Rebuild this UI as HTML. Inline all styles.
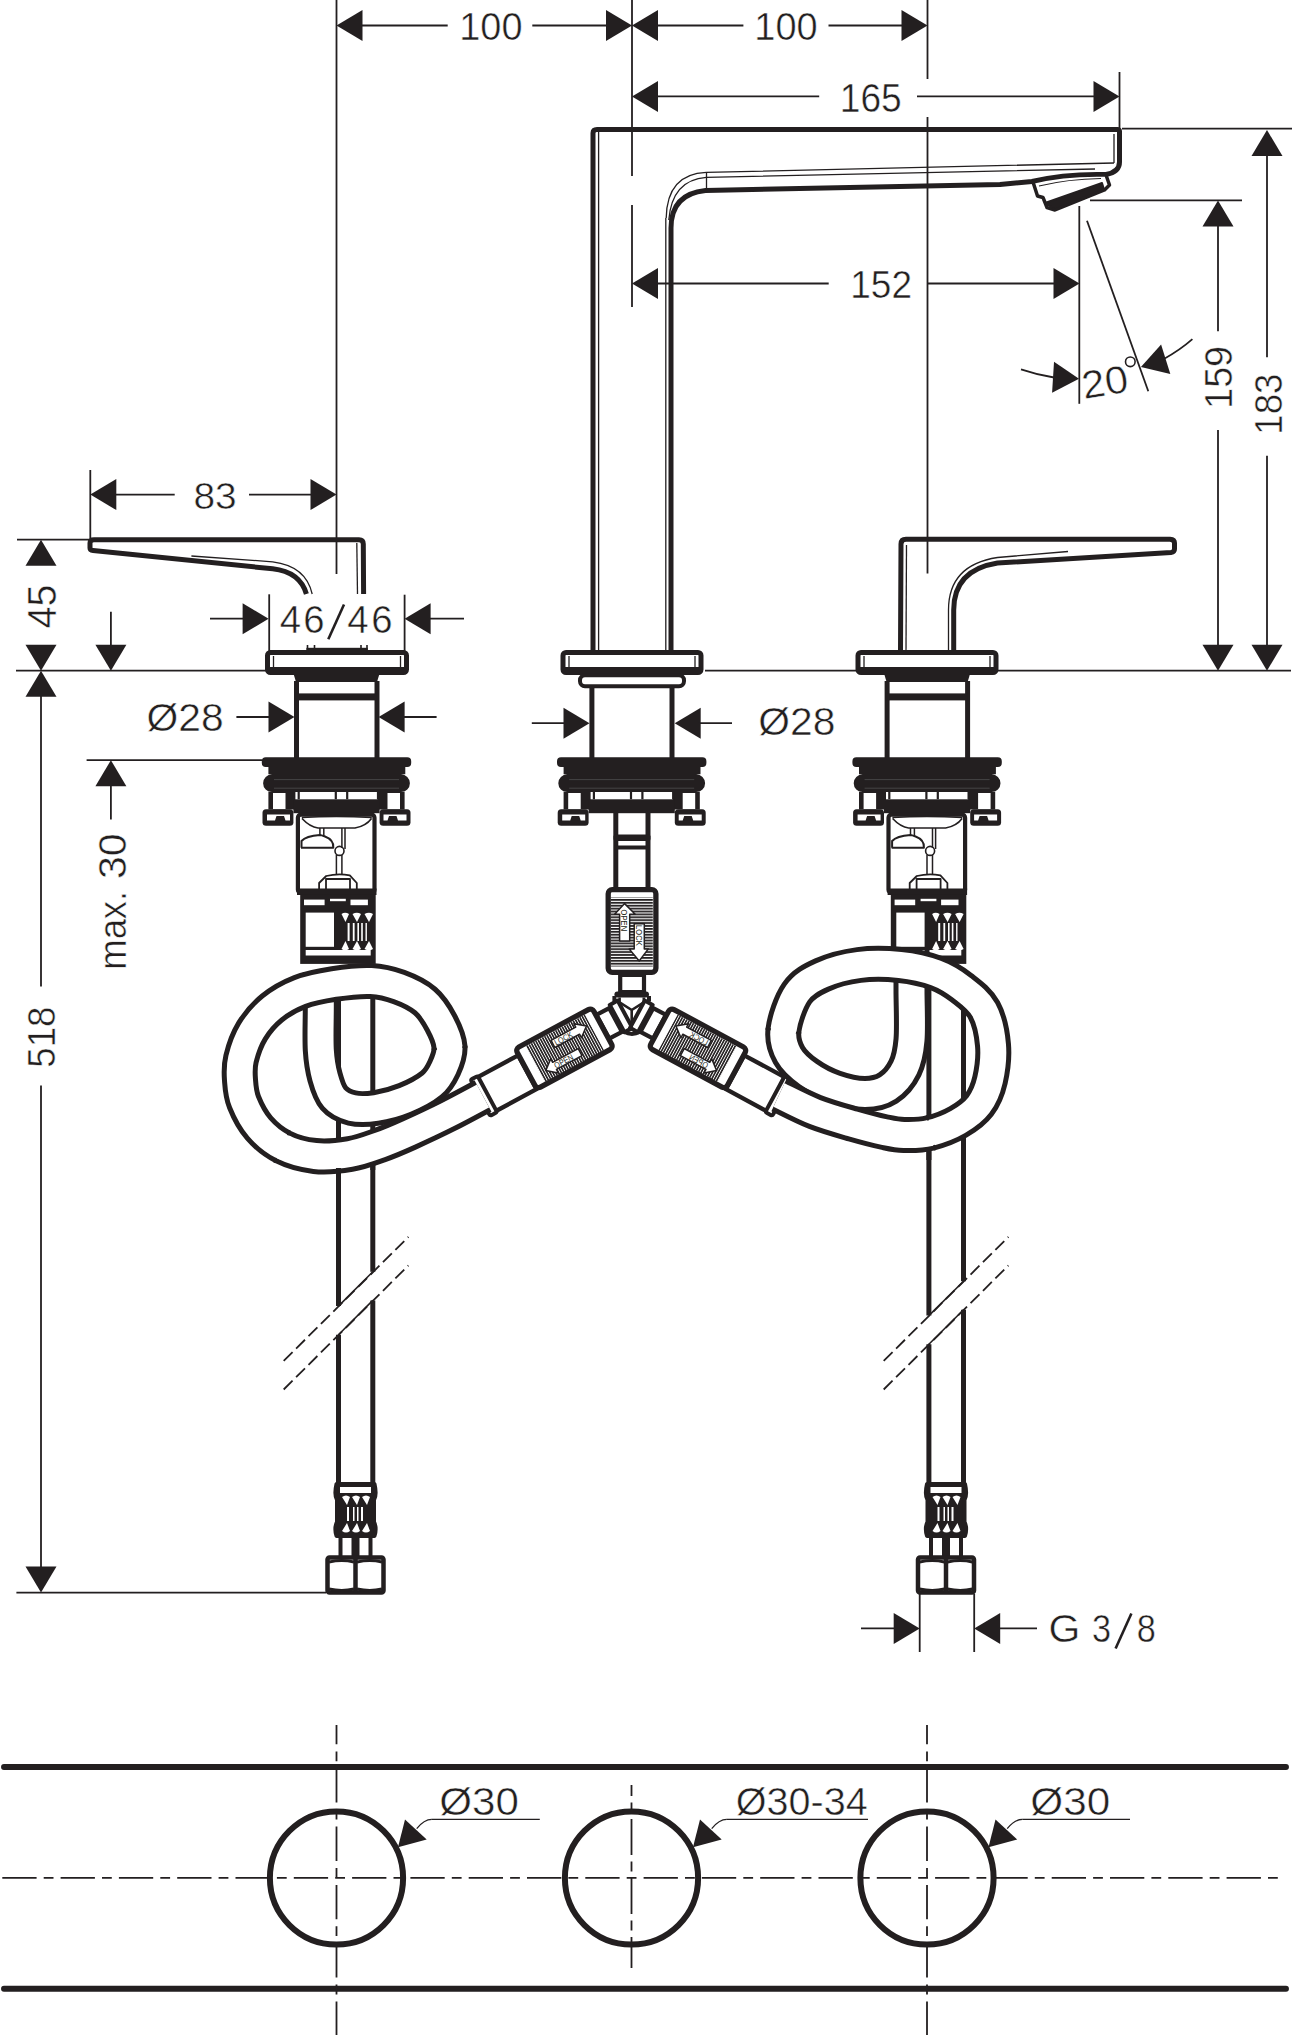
<!DOCTYPE html>
<html><head><meta charset="utf-8"><style>
html,body{margin:0;padding:0;background:#fff;}
svg{display:block;}
text{font-family:"Liberation Sans",sans-serif;fill:#231f20;stroke:#fff;stroke-width:0.5px;}
</style></head><body>
<svg width="1292" height="2035" viewBox="0 0 1292 2035" fill="none" stroke="#231f20" stroke-linecap="butt" stroke-linejoin="round">
<rect x="0" y="0" width="1292" height="2035" fill="#fff" stroke="none"/>
<line x1="336.5" y1="0" x2="336.5" y2="574" stroke-width="1.8" />
<line x1="632" y1="0" x2="632" y2="176" stroke-width="1.8" />
<line x1="632" y1="205" x2="632" y2="307" stroke-width="1.8" />
<line x1="927.5" y1="0" x2="927.5" y2="79" stroke-width="1.8" />
<line x1="927.5" y1="117" x2="927.5" y2="573.5" stroke-width="1.8" />
<polygon points="336.5,25.5 362.5,10.0 362.5,41.0" stroke="none" fill="#231f20"/>
<line x1="362" y1="25.5" x2="447.7" y2="25.5" stroke-width="1.8" />
<text transform="translate(459.27,40.20) scale(0.955,1)" font-size="39.71" >100</text>
<line x1="532.3" y1="25.5" x2="607" y2="25.5" stroke-width="1.8" />
<polygon points="632.0,25.5 606.0,41.0 606.0,10.0" stroke="none" fill="#231f20"/>
<polygon points="632.0,25.5 658.0,10.0 658.0,41.0" stroke="none" fill="#231f20"/>
<line x1="657" y1="25.5" x2="743.4" y2="25.5" stroke-width="1.8" />
<text transform="translate(754.26,40.20) scale(0.957,1)" font-size="39.71" >100</text>
<line x1="828.5" y1="25.5" x2="902" y2="25.5" stroke-width="1.8" />
<polygon points="927.5,25.5 901.5,41.0 901.5,10.0" stroke="none" fill="#231f20"/>
<polygon points="632.0,96.4 658.0,80.9 658.0,111.9" stroke="none" fill="#231f20"/>
<line x1="657" y1="96.4" x2="819.2" y2="96.4" stroke-width="1.8" />
<text transform="translate(839.73,111.50) scale(0.932,1)" font-size="39.86" >165</text>
<line x1="917" y1="96.4" x2="1094" y2="96.4" stroke-width="1.8" />
<polygon points="1119.5,96.4 1093.5,111.9 1093.5,80.9" stroke="none" fill="#231f20"/>
<line x1="1119.5" y1="72" x2="1119.5" y2="128" stroke-width="1.8" />
<polygon points="632.0,283.5 658.0,268.0 658.0,299.0" stroke="none" fill="#231f20"/>
<line x1="657" y1="283.5" x2="828.7" y2="283.5" stroke-width="1.8" />
<text transform="translate(850.24,298.30) scale(0.932,1)" font-size="39.71" >152</text>
<line x1="927.5" y1="283.5" x2="1054" y2="283.5" stroke-width="1.8" />
<polygon points="1079.5,283.5 1053.5,299.0 1053.5,268.0" stroke="none" fill="#231f20"/>
<line x1="1122" y1="128.7" x2="1292" y2="128.7" stroke-width="1.8" />
<line x1="1090" y1="200.3" x2="1242" y2="200.3" stroke-width="1.8" />
<polygon points="1267.0,130.0 1282.5,156.0 1251.5,156.0" stroke="none" fill="#231f20"/>
<line x1="1267" y1="155" x2="1267" y2="357.2" stroke-width="1.8" />
<text transform="translate(1281.60,434.73) rotate(-90) scale(0.929,1)" font-size="39.43">183</text>
<line x1="1267" y1="455.7" x2="1267" y2="645" stroke-width="1.8" />
<polygon points="1267.0,670.7 1251.5,644.7 1282.5,644.7" stroke="none" fill="#231f20"/>
<polygon points="1218.0,200.6 1233.5,226.6 1202.5,226.6" stroke="none" fill="#231f20"/>
<line x1="1218" y1="226" x2="1218" y2="331.2" stroke-width="1.8" />
<text transform="translate(1232.20,408.81) rotate(-90) scale(0.969,1)" font-size="38.86">159</text>
<line x1="1218" y1="429.9" x2="1218" y2="645" stroke-width="1.8" />
<polygon points="1218.0,670.7 1202.5,644.7 1233.5,644.7" stroke="none" fill="#231f20"/>
<line x1="1079.3" y1="206" x2="1079.3" y2="403.8" stroke-width="1.8" />
<line x1="1087" y1="220.7" x2="1148.3" y2="391.3" stroke-width="1.8" />
<polygon points="1079.0,378.8 1052.1,392.7 1054.0,361.8" stroke="none" fill="#231f20"/>
<path d="M1021,369.3 Q1038,375 1054,377.5" stroke-width="1.8" />
<polygon points="1140.9,367.0 1161.1,344.5 1170.3,374.1" stroke="none" fill="#231f20"/>
<path d="M1192.4,339.1 Q1180,350 1163,359.5" stroke-width="1.8" />
<text transform="translate(1084,399) rotate(-9) scale(1.07,1)" font-size="39">20</text>
<circle cx="1130.3" cy="361.8" r="4.8" stroke-width="1.6"/>
<line x1="16" y1="670.7" x2="267" y2="670.7" stroke-width="1.8" />
<line x1="705" y1="670.7" x2="858" y2="670.7" stroke-width="1.8" />
<line x1="996" y1="670.7" x2="1291" y2="670.7" stroke-width="1.8" />
<line x1="90.3" y1="470" x2="90.3" y2="539" stroke-width="1.8" />
<polygon points="90.3,494.6 116.3,479.1 116.3,510.1" stroke="none" fill="#231f20"/>
<line x1="116" y1="494.6" x2="174.7" y2="494.6" stroke-width="1.8" />
<text transform="translate(193.45,508.70) scale(1.046,1)" font-size="37.14" >83</text>
<line x1="249" y1="494.6" x2="311" y2="494.6" stroke-width="1.8" />
<polygon points="336.5,494.6 310.5,510.1 310.5,479.1" stroke="none" fill="#231f20"/>
<line x1="17" y1="539.7" x2="89" y2="539.7" stroke-width="1.8" />
<polygon points="41.0,539.7 56.5,565.7 25.5,565.7" stroke="none" fill="#231f20"/>
<text transform="translate(56.00,628.39) rotate(-90) scale(0.980,1)" font-size="40.14">45</text>
<polygon points="41.0,670.7 25.5,644.7 56.5,644.7" stroke="none" fill="#231f20"/>
<polygon points="41.0,670.7 56.5,696.7 25.5,696.7" stroke="none" fill="#231f20"/>
<line x1="41" y1="696" x2="41" y2="986.6" stroke-width="1.8" />
<text transform="translate(55.00,1067.67) rotate(-90) scale(0.923,1)" font-size="39.71">518</text>
<line x1="41" y1="1085.6" x2="41" y2="1567" stroke-width="1.8" />
<polygon points="41.0,1592.6 25.5,1566.6 56.5,1566.6" stroke="none" fill="#231f20"/>
<line x1="16.4" y1="1592.6" x2="326" y2="1592.6" stroke-width="1.8" />
<line x1="110.9" y1="611.7" x2="110.9" y2="646" stroke-width="1.8" />
<polygon points="110.9,670.7 95.4,644.7 126.4,644.7" stroke="none" fill="#231f20"/>
<line x1="86.6" y1="760.2" x2="262" y2="760.2" stroke-width="1.8" />
<polygon points="110.9,760.2 126.4,786.2 95.4,786.2" stroke="none" fill="#231f20"/>
<line x1="110.9" y1="785" x2="110.9" y2="819.5" stroke-width="1.8" />
<text transform="translate(125.60,879.05) rotate(-90) scale(1.040,1)" font-size="39.57">30</text>
<text transform="translate(125.60,969.65) rotate(-90) scale(0.919,1)" font-size="39.57">max.</text>
<line x1="210" y1="618.7" x2="243" y2="618.7" stroke-width="1.8" />
<polygon points="268.6,618.7 242.6,634.2 242.6,603.2" stroke="none" fill="#231f20"/>
<line x1="269.2" y1="594.3" x2="269.2" y2="652" stroke-width="1.8" />
<text transform="translate(279.83,633.20) scale(0.971,1)" font-size="39.57" >4</text>
<text transform="translate(303.29,633.20) scale(0.967,1)" font-size="39.57" >6</text>
<line x1="328.3" y1="639.3" x2="344" y2="604.5" stroke-width="2.6" />
<text transform="translate(347.23,633.20) scale(0.971,1)" font-size="39.57" >4</text>
<text transform="translate(371.19,633.20) scale(0.967,1)" font-size="39.57" >6</text>
<line x1="404.6" y1="594.7" x2="404.6" y2="652" stroke-width="1.8" />
<polygon points="404.6,618.7 430.6,603.2 430.6,634.2" stroke="none" fill="#231f20"/>
<line x1="430" y1="618.7" x2="464" y2="618.7" stroke-width="1.8" />
<text transform="translate(146.47,731.40) scale(1.055,1)" font-size="38.71" >Ø28</text>
<line x1="236.4" y1="717" x2="270" y2="717" stroke-width="1.8" />
<polygon points="294.5,717.0 268.5,732.5 268.5,701.5" stroke="none" fill="#231f20"/>
<polygon points="378.6,717.0 404.6,701.5 404.6,732.5" stroke="none" fill="#231f20"/>
<line x1="403" y1="717" x2="436.6" y2="717" stroke-width="1.8" />
<line x1="531.8" y1="723.2" x2="566" y2="723.2" stroke-width="1.8" />
<polygon points="589.5,723.2 563.5,738.7 563.5,707.7" stroke="none" fill="#231f20"/>
<polygon points="674.7,723.2 700.7,707.7 700.7,738.7" stroke="none" fill="#231f20"/>
<line x1="698" y1="723.2" x2="732" y2="723.2" stroke-width="1.8" />
<text transform="translate(758.37,735.00) scale(1.057,1)" font-size="38.57" >Ø28</text>
<line x1="919.7" y1="1594" x2="919.7" y2="1652" stroke-width="1.8" />
<line x1="974.2" y1="1594" x2="974.2" y2="1652" stroke-width="1.8" />
<line x1="861" y1="1628.4" x2="895" y2="1628.4" stroke-width="1.8" />
<polygon points="919.7,1628.4 893.7,1643.9 893.7,1612.9" stroke="none" fill="#231f20"/>
<polygon points="974.2,1628.4 1000.2,1612.9 1000.2,1643.9" stroke="none" fill="#231f20"/>
<line x1="999" y1="1628.4" x2="1037" y2="1628.4" stroke-width="1.8" />
<text transform="translate(1048.55,1642.30) scale(1.053,1)" font-size="38.86" >G</text>
<text transform="translate(1091.93,1642.30) scale(0.882,1)" font-size="38.86" >3</text>
<line x1="1115.6" y1="1648.5" x2="1131.4" y2="1613.5" stroke-width="2.6" />
<text transform="translate(1136.73,1642.30) scale(0.882,1)" font-size="38.86" >8</text>
<path d="M593,652 L593,133 Q593,129.5 597,129.5 L1117.5,129.5 Q1119.5,129.5 1119.5,131.5 L1119.5,162 Q1119.5,172 1106,174.5 Q1065,173.5 1032,181.5 L1000,184.6 L705.5,190.5 Q671,194 671,228 L671,652" stroke-width="5.0" />
<line x1="598.6" y1="132" x2="598.6" y2="652" stroke-width="1.3" />
<line x1="665.8" y1="218" x2="665.8" y2="652" stroke-width="1.3" />
<path d="M666.2,218 Q667,174 706.3,172.4 L1114,163" stroke-width="1.3" />
<path d="M668.8,220 Q672,180 706.3,177.4 L1095,169" stroke-width="1.3" />
<line x1="706.5" y1="173" x2="706.5" y2="190" stroke-width="1.3" />
<line x1="1114" y1="134" x2="1114" y2="163" stroke-width="1.3" />
<path d="M1033,182 L1037.5,196 L1043,197.5 L1047,207.5 L1055,210 L1104.5,190 L1109.5,185 L1106,175 Q1065,174 1033,182Z" fill="#fff" stroke="#231f20" stroke-width="3.5"/>
<polygon points="1045,203 1055,209.5 1104,189.5 1102,183" fill="#231f20" stroke="#231f20" stroke-width="2"/>
<path d="M1039,186 Q1068,179 1101,178.5" stroke-width="1.2"/>
<path d="M90,548 L90,543 Q90,539.7 94,539.7 L359,539.7 Q363.3,539.7 363.3,544 L363.6,594" stroke-width="5.0" />
<path d="M90,548 Q90,550.3 93,550.5 L272.7,568.8 Q300,572 306.4,594" stroke-width="5.0" />
<path d="M191.4,556 L272.7,561.8 Q306,566 312.2,594" stroke-width="1.3" />
<line x1="356.8" y1="543" x2="357.5" y2="594" stroke-width="1.3" />
<path d="M900.5,650 L901,544 Q901,539.2 906,539.2 L1170,539.2 Q1174.5,539.5 1174.5,543 L1174.5,549 Q1174.5,552 1171,552.5 L997.5,563 Q953.7,570 953.7,610 L953.7,650" stroke-width="5.0" />
<line x1="906.5" y1="545" x2="906" y2="650" stroke-width="1.3" />
<path d="M1068,551.5 L997.5,557.5 Q948.5,565 948.5,610 L948.5,650" stroke-width="1.3" />
<rect x="267.5" y="652.5" width="139.0" height="20" rx="3" stroke-width="5.0" fill="#fff"/>
<rect x="267.5" y="667" width="139.0" height="7" fill="#231f20" stroke="none"/>
<line x1="273.5" y1="656" x2="273.5" y2="667" stroke-width="1.3" />
<line x1="400.5" y1="656" x2="400.5" y2="667" stroke-width="1.3" />
<rect x="563" y="652.5" width="138" height="20" rx="3" stroke-width="5.0" fill="#fff"/>
<rect x="563" y="667" width="138" height="7" fill="#231f20" stroke="none"/>
<line x1="569" y1="656" x2="569" y2="667" stroke-width="1.3" />
<line x1="695" y1="656" x2="695" y2="667" stroke-width="1.3" />
<rect x="858" y="652.5" width="138" height="20" rx="3" stroke-width="5.0" fill="#fff"/>
<rect x="858" y="667" width="138" height="7" fill="#231f20" stroke="none"/>
<line x1="864" y1="656" x2="864" y2="667" stroke-width="1.3" />
<line x1="990" y1="656" x2="990" y2="667" stroke-width="1.3" />
<g transform="translate(0.0,0)">
<path d="M265.8,757.2 H407.2 Q411.2,757.2 411.2,761.2 V763.1 Q411.2,767.1 407.2,767.1 H405.3 V774.3 H401 A8.9,8.9 0 0 1 401,792.1 H272 A8.9,8.9 0 0 1 272,774.3 H268.4 V767.1 H265.8 Q261.8,767.1 261.8,763.1 V761.2 Q261.8,757.2 265.8,757.2 Z" fill="#231f20" stroke="none"/>
<path d="M274,779.6 H399 M274,788.2 H399" stroke="#4a4a4a" stroke-width="0.9"/>
<rect x="262.5" y="809.2" width="30.9" height="16.5" rx="3.5" fill="#231f20" stroke="none"/>
<rect x="379.6" y="809.2" width="30.9" height="16.5" rx="3.5" fill="#231f20" stroke="none"/>
<path d="M267,814.5 H290 V820.4 H285.5 L284,816 H276.5 L275,820.4 H267Z M383.5,814.5 H406.5 V820.4 H398 L396.5,816 H389 L387.5,820.4 H383.5Z" fill="#fff" stroke="none"/>
<rect x="268.4" y="792" width="27" height="17.5" fill="#231f20" stroke="none"/>
<rect x="377.6" y="792" width="27" height="17.5" fill="#231f20" stroke="none"/>
<rect x="273" y="793" width="12.5" height="16" fill="#fff" stroke="none"/>
<rect x="387.5" y="793" width="12.5" height="16" fill="#fff" stroke="none"/>
<rect x="293.4" y="799.3" width="86.2" height="13.9" fill="#231f20" stroke="none"/>
<path d="M298.7,792 V799.3 M335.8,792 V799.3 M347.2,792 V799.3 M378,792 V799.3" stroke-width="2.2"/>
</g>
<g transform="translate(0.0,0)">
<rect x="306.4" y="647.8" width="61.3" height="6" fill="#231f20" stroke="none"/>
<path d="M307.5,652 V645 M314.5,652 V645 M361,652 V645 M367,652 V645" stroke-width="1.6"/>
<polygon points="293,672 380,672 377,682 296,682" fill="#231f20" stroke="none"/>
<line x1="296.5" y1="681" x2="296.5" y2="758" stroke-width="5.0" />
<line x1="377" y1="681" x2="377" y2="758" stroke-width="5.0" />
<rect x="296" y="693.4" width="81" height="7" fill="#231f20" stroke="none"/>
<rect x="297.9" y="814.7" width="76.6" height="78" rx="3" stroke-width="4.2" fill="#fff"/>
<path d="M301.8,817.5 Q336,815.5 371.8,817.5 M302,818.5 Q310,827 318,828 L355,828 Q366,826 371.5,818.5" stroke-width="1.6"/>
<path d="M301.5,847.7 L301.5,841 Q306,836 319.9,835 M301,847.7 L333.3,847.7 Q334,840 325,836.5 Q321,835 319.9,835" stroke-width="2"/>
<path d="M319.9,828 V835 M323.8,828 V836 M341.9,828 V848 M345,828 V849" stroke-width="1.5"/>
<circle cx="339.5" cy="850.9" r="4.5" stroke-width="1.6"/>
<path d="M336.4,855 V875 M341.9,855 V875" stroke-width="1.5"/>
<path d="M319.1,889.4 V883 L326.2,876 Q338,873 349.8,875.3 L356.8,883 V889.4 M326,889 V879 H350 V889" stroke-width="1.8"/>
<rect x="297" y="888.5" width="79.5" height="6.5" fill="#231f20" stroke="none"/>
<rect x="300.2" y="894.9" width="75.5" height="69" fill="#231f20" stroke="none"/>
<rect x="304" y="899.6" width="20.6" height="5.6" fill="#fff" stroke="none"/>
<rect x="330" y="898.8" width="15.8" height="2.4" fill="#fff" stroke="none"/>
<rect x="350.5" y="899.6" width="17.4" height="5.6" fill="#fff" stroke="none"/>
<rect x="305.7" y="912.6" width="28.3" height="34.2" fill="#fff" stroke="none"/>
<rect x="305.7" y="950" width="65" height="5.5" fill="#fff" stroke="none"/>
<path d="M341.5,914 Q345,911.5 349,914 L345.5,922 Z M352.5,914 Q357,911.5 361,914 L357,922 Z M364.5,914 Q369,911.5 373,914 L369,922 Z" fill="#fff" stroke="none"/>
<path d="M341.5,949 Q345,951.5 349,949 L345.5,941 Z M352.5,949 Q357,951.5 361,949 L357,941 Z M364.5,949 Q369,951.5 373,949 L369,941 Z" fill="#fff" stroke="none"/>
<rect x="347.6" y="923" width="2" height="18" fill="#fff" stroke="none"/><rect x="352.8" y="923" width="1.8" height="18" fill="#fff" stroke="none"/><rect x="357.4" y="923" width="1.6" height="18" fill="#fff" stroke="none"/><rect x="361.2" y="923" width="1.6" height="18" fill="#fff" stroke="none"/><rect x="365.5" y="923" width="1.4" height="18" fill="#fff" stroke="none"/>
</g>
<g transform="translate(590.6,0)">
<path d="M265.8,757.2 H407.2 Q411.2,757.2 411.2,761.2 V763.1 Q411.2,767.1 407.2,767.1 H405.3 V774.3 H401 A8.9,8.9 0 0 1 401,792.1 H272 A8.9,8.9 0 0 1 272,774.3 H268.4 V767.1 H265.8 Q261.8,767.1 261.8,763.1 V761.2 Q261.8,757.2 265.8,757.2 Z" fill="#231f20" stroke="none"/>
<path d="M274,779.6 H399 M274,788.2 H399" stroke="#4a4a4a" stroke-width="0.9"/>
<rect x="262.5" y="809.2" width="30.9" height="16.5" rx="3.5" fill="#231f20" stroke="none"/>
<rect x="379.6" y="809.2" width="30.9" height="16.5" rx="3.5" fill="#231f20" stroke="none"/>
<path d="M267,814.5 H290 V820.4 H285.5 L284,816 H276.5 L275,820.4 H267Z M383.5,814.5 H406.5 V820.4 H398 L396.5,816 H389 L387.5,820.4 H383.5Z" fill="#fff" stroke="none"/>
<rect x="268.4" y="792" width="27" height="17.5" fill="#231f20" stroke="none"/>
<rect x="377.6" y="792" width="27" height="17.5" fill="#231f20" stroke="none"/>
<rect x="273" y="793" width="12.5" height="16" fill="#fff" stroke="none"/>
<rect x="387.5" y="793" width="12.5" height="16" fill="#fff" stroke="none"/>
<rect x="293.4" y="799.3" width="86.2" height="13.9" fill="#231f20" stroke="none"/>
<path d="M298.7,792 V799.3 M335.8,792 V799.3 M347.2,792 V799.3 M378,792 V799.3" stroke-width="2.2"/>
</g>
<g transform="translate(590.6,0)">
<polygon points="293,672 380,672 377,682 296,682" fill="#231f20" stroke="none"/>
<line x1="296.5" y1="681" x2="296.5" y2="758" stroke-width="5.0" />
<line x1="377" y1="681" x2="377" y2="758" stroke-width="5.0" />
<rect x="296" y="693.4" width="81" height="7" fill="#231f20" stroke="none"/>
<rect x="297.9" y="814.7" width="76.6" height="78" rx="3" stroke-width="4.2" fill="#fff"/>
<path d="M301.8,817.5 Q336,815.5 371.8,817.5 M302,818.5 Q310,827 318,828 L355,828 Q366,826 371.5,818.5" stroke-width="1.6"/>
<path d="M301.5,847.7 L301.5,841 Q306,836 319.9,835 M301,847.7 L333.3,847.7 Q334,840 325,836.5 Q321,835 319.9,835" stroke-width="2"/>
<path d="M319.9,828 V835 M323.8,828 V836 M341.9,828 V848 M345,828 V849" stroke-width="1.5"/>
<circle cx="339.5" cy="850.9" r="4.5" stroke-width="1.6"/>
<path d="M336.4,855 V875 M341.9,855 V875" stroke-width="1.5"/>
<path d="M319.1,889.4 V883 L326.2,876 Q338,873 349.8,875.3 L356.8,883 V889.4 M326,889 V879 H350 V889" stroke-width="1.8"/>
<rect x="297" y="888.5" width="79.5" height="6.5" fill="#231f20" stroke="none"/>
<rect x="300.2" y="894.9" width="75.5" height="69" fill="#231f20" stroke="none"/>
<rect x="304" y="899.6" width="20.6" height="5.6" fill="#fff" stroke="none"/>
<rect x="330" y="898.8" width="15.8" height="2.4" fill="#fff" stroke="none"/>
<rect x="350.5" y="899.6" width="17.4" height="5.6" fill="#fff" stroke="none"/>
<rect x="305.7" y="912.6" width="28.3" height="34.2" fill="#fff" stroke="none"/>
<rect x="305.7" y="950" width="65" height="5.5" fill="#fff" stroke="none"/>
<path d="M341.5,914 Q345,911.5 349,914 L345.5,922 Z M352.5,914 Q357,911.5 361,914 L357,922 Z M364.5,914 Q369,911.5 373,914 L369,922 Z" fill="#fff" stroke="none"/>
<path d="M341.5,949 Q345,951.5 349,949 L345.5,941 Z M352.5,949 Q357,951.5 361,949 L357,941 Z M364.5,949 Q369,951.5 373,949 L369,941 Z" fill="#fff" stroke="none"/>
<rect x="347.6" y="923" width="2" height="18" fill="#fff" stroke="none"/><rect x="352.8" y="923" width="1.8" height="18" fill="#fff" stroke="none"/><rect x="357.4" y="923" width="1.6" height="18" fill="#fff" stroke="none"/><rect x="361.2" y="923" width="1.6" height="18" fill="#fff" stroke="none"/><rect x="365.5" y="923" width="1.4" height="18" fill="#fff" stroke="none"/>
</g>
<rect x="580" y="675.3" width="104" height="11" rx="5" stroke-width="4" fill="#fff"/>
<line x1="591.9" y1="686" x2="591.9" y2="758" stroke-width="5.0" />
<line x1="672" y1="686" x2="672" y2="758" stroke-width="5.0" />
<g transform="translate(295.2,0)">
<path d="M265.8,757.2 H407.2 Q411.2,757.2 411.2,761.2 V763.1 Q411.2,767.1 407.2,767.1 H405.3 V774.3 H401 A8.9,8.9 0 0 1 401,792.1 H272 A8.9,8.9 0 0 1 272,774.3 H268.4 V767.1 H265.8 Q261.8,767.1 261.8,763.1 V761.2 Q261.8,757.2 265.8,757.2 Z" fill="#231f20" stroke="none"/>
<path d="M274,779.6 H399 M274,788.2 H399" stroke="#4a4a4a" stroke-width="0.9"/>
<rect x="262.5" y="809.2" width="30.9" height="16.5" rx="3.5" fill="#231f20" stroke="none"/>
<rect x="379.6" y="809.2" width="30.9" height="16.5" rx="3.5" fill="#231f20" stroke="none"/>
<path d="M267,814.5 H290 V820.4 H285.5 L284,816 H276.5 L275,820.4 H267Z M383.5,814.5 H406.5 V820.4 H398 L396.5,816 H389 L387.5,820.4 H383.5Z" fill="#fff" stroke="none"/>
<rect x="268.4" y="792" width="27" height="17.5" fill="#231f20" stroke="none"/>
<rect x="377.6" y="792" width="27" height="17.5" fill="#231f20" stroke="none"/>
<rect x="273" y="793" width="12.5" height="16" fill="#fff" stroke="none"/>
<rect x="387.5" y="793" width="12.5" height="16" fill="#fff" stroke="none"/>
<rect x="293.4" y="799.3" width="86.2" height="13.9" fill="#231f20" stroke="none"/>
<path d="M298.7,792 V799.3 M335.8,792 V799.3 M347.2,792 V799.3 M378,792 V799.3" stroke-width="2.2"/>
</g>
<line x1="615.8" y1="812" x2="615.8" y2="888" stroke-width="5.0" />
<line x1="648" y1="812" x2="648" y2="888" stroke-width="5.0" />
<rect x="613.5" y="834.5" width="37" height="6.5" rx="2" fill="#231f20" stroke="none"/>
<rect x="614" y="845.5" width="36" height="4" fill="#231f20" stroke="none"/>
<defs><pattern id="hh" width="4" height="2.9" patternUnits="userSpaceOnUse"><rect width="4" height="1.25" fill="#231f20"/></pattern><pattern id="vh" width="2.5" height="4" patternUnits="userSpaceOnUse"><rect width="1.1" height="4" fill="#231f20"/></pattern></defs>
<rect x="608.2" y="889.7" width="47.7" height="82.6" rx="4" stroke-width="5.3" fill="#fff"/>
<rect x="610.8" y="897.5" width="42" height="69" fill="url(#hh)" stroke="none"/>
<path d="M624.6,903.6 L635.2,914.2 L629.7,914.2 L629.7,940.9 L619.6,940.9 L619.6,914.2 L614.6,914.2Z" fill="#fff" stroke-width="1.5"/>
<path d="M639.2,961 L648.3,948.9 L644.3,948.9 L644.3,923.8 L634.2,923.8 L634.2,948.9 L629.2,948.9Z" fill="#fff" stroke-width="1.5"/>
<text transform="translate(621.3,909.5) rotate(90) scale(0.85,1)" font-size="9" style="stroke:none">OPEN</text>
<text transform="translate(635.7,925) rotate(90) scale(0.85,1)" font-size="9" style="stroke:none">LOCK</text>
<rect x="620.2" y="975" width="23.8" height="17" stroke-width="4.2" fill="#fff"/>
<g >
<g transform="translate(564.3,1048.1) rotate(-28.3)">
<rect x="44" y="-14" width="14.5" height="27" stroke-width="4.2" fill="#fff"/>
<rect x="60.5" y="-16.5" width="9" height="31" stroke-width="4" fill="#fff"/>
<rect x="-91" y="-15.5" width="47" height="38.5" stroke-width="4.3" fill="#fff"/>
<rect x="-97.5" y="-16.5" width="8" height="41" rx="2" stroke-width="4" fill="#fff"/>
<rect x="-43.5" y="-22.5" width="87" height="45.5" rx="4" stroke-width="5.3" fill="#fff"/>
<rect x="-33" y="-19.8" width="67" height="40.5" fill="url(#vh)" stroke="none"/>
<path d="M-27,11 L-17,3 L-17,7 L12,7 L12,15 L-17,15 L-17,19Z" fill="#fff" stroke-width="1.5"/>
<path d="M30,-9 L20,-17 L20,-13 L-8,-13 L-8,-5 L20,-5 L20,-1Z" fill="#fff" stroke-width="1.5"/>
<text transform="translate(-17,14.3) scale(0.85,1)" font-size="8.5" style="stroke:none">OPEN</text>
<text transform="translate(-6,-5.8) scale(0.85,1)" font-size="8.5" style="stroke:none">LOCK</text>
</g></g>
<g transform="translate(1262.4,0) scale(-1,1)">
<g transform="translate(564.3,1048.1) rotate(-28.3)">
<rect x="44" y="-14" width="14.5" height="27" stroke-width="4.2" fill="#fff"/>
<rect x="60.5" y="-16.5" width="9" height="31" stroke-width="4" fill="#fff"/>
<rect x="-91" y="-15.5" width="47" height="38.5" stroke-width="4.3" fill="#fff"/>
<rect x="-97.5" y="-16.5" width="8" height="41" rx="2" stroke-width="4" fill="#fff"/>
<rect x="-43.5" y="-22.5" width="87" height="45.5" rx="4" stroke-width="5.3" fill="#fff"/>
<rect x="-33" y="-19.8" width="67" height="40.5" fill="url(#vh)" stroke="none"/>
<path d="M-27,11 L-17,3 L-17,7 L12,7 L12,15 L-17,15 L-17,19Z" fill="#fff" stroke-width="1.5"/>
<path d="M30,-9 L20,-17 L20,-13 L-8,-13 L-8,-5 L20,-5 L20,-1Z" fill="#fff" stroke-width="1.5"/>
<text transform="translate(-17,14.3) scale(0.85,1)" font-size="8.5" style="stroke:none">OPEN</text>
<text transform="translate(-6,-5.8) scale(0.85,1)" font-size="8.5" style="stroke:none">LOCK</text>
</g></g>
<rect x="614.4" y="991.5" width="34.6" height="6" rx="3" fill="#231f20" stroke="none"/>
<path d="M614.4,996 L614.4,1001.6 M649,996 L649,1001.6" stroke-width="4"/>
<path d="M619.6,997.5 L619.6,1002.4 L631.7,1010 L643.8,1002.4 L643.8,997.5 M631.7,1010 L631.7,1028" stroke-width="2.6"/>
<path d="M624,1031.8 Q632,1036 640,1031.8" stroke-width="4"/>
<line x1="372.8" y1="990" x2="372.8" y2="1170" stroke-width="5.0" />
<line x1="338.5" y1="990" x2="338.5" y2="1170" stroke-width="5.0" />
<path d="M320.8,972.0 C320.8,977.8 320.8,994.0 320.8,1007.0 C320.8,1020.0 320.1,1038.3 320.8,1050.0 C321.5,1061.7 322.8,1069.0 325.0,1077.0 C327.2,1085.0 329.5,1092.8 334.0,1098.0 C338.5,1103.2 345.0,1106.3 352.0,1108.0 C359.0,1109.7 367.2,1109.3 376.0,1108.0 C384.8,1106.7 395.7,1103.8 405.0,1100.0 C414.3,1096.2 425.5,1090.3 432.0,1085.0 C438.5,1079.7 441.1,1074.3 444.0,1068.0 C446.9,1061.7 450.0,1054.5 449.5,1047.0" stroke-width="36.0" stroke-linecap="butt"/>
<path d="M320.8,972.0 C320.8,977.8 320.8,994.0 320.8,1007.0 C320.8,1020.0 320.1,1038.3 320.8,1050.0 C321.5,1061.7 322.8,1069.0 325.0,1077.0 C327.2,1085.0 329.5,1092.8 334.0,1098.0 C338.5,1103.2 345.0,1106.3 352.0,1108.0 C359.0,1109.7 367.2,1109.3 376.0,1108.0 C384.8,1106.7 395.7,1103.8 405.0,1100.0 C414.3,1096.2 425.5,1090.3 432.0,1085.0 C438.5,1079.7 441.1,1074.3 444.0,1068.0 C446.9,1061.7 450.0,1054.5 449.5,1047.0" stroke-width="26.0" stroke="#fff" stroke-linecap="butt"/>
<path d="M449.63,1049.00 L449.5,1047.0 C449.0,1039.5 445.1,1030.7 441.0,1023.0 C436.9,1015.3 432.0,1007.0 425.0,1001.0 C418.0,995.0 408.0,990.3 399.0,987.0 C390.0,983.7 381.8,981.5 371.0,981.0 C360.2,980.5 345.8,982.2 334.0,984.0 C322.2,985.8 310.3,988.0 300.0,992.0 C289.7,996.0 280.0,1001.5 272.0,1008.0 C264.0,1014.5 257.2,1022.5 252.0,1031.0 C246.8,1039.5 243.0,1050.8 241.0,1059.0 C239.0,1067.2 239.5,1072.8 240.0,1080.0 C240.5,1087.2 240.8,1094.0 244.0,1102.0 C247.2,1110.0 252.5,1120.5 259.0,1128.0 C265.5,1135.5 273.7,1142.3 283.0,1147.0" stroke-width="36.0" stroke-linecap="butt"/>
<path d="M449.5,1047.0 C449.0,1039.5 445.1,1030.7 441.0,1023.0 C436.9,1015.3 432.0,1007.0 425.0,1001.0 C418.0,995.0 408.0,990.3 399.0,987.0 C390.0,983.7 381.8,981.5 371.0,981.0 C360.2,980.5 345.8,982.2 334.0,984.0 C322.2,985.8 310.3,988.0 300.0,992.0 C289.7,996.0 280.0,1001.5 272.0,1008.0 C264.0,1014.5 257.2,1022.5 252.0,1031.0 C246.8,1039.5 243.0,1050.8 241.0,1059.0 C239.0,1067.2 239.5,1072.8 240.0,1080.0 C240.5,1087.2 240.8,1094.0 244.0,1102.0 C247.2,1110.0 252.5,1120.5 259.0,1128.0 C265.5,1135.5 273.7,1142.3 283.0,1147.0" stroke-width="26.0" stroke="#fff" stroke-linecap="butt"/>
<circle cx="449.5" cy="1047" r="12.7" fill="#fff" stroke="none"/>
<path d="M281.21,1146.11 L283.0,1147.0 C292.3,1151.7 303.8,1154.8 315.0,1156.0 C326.2,1157.2 339.2,1155.8 350.0,1154.0 C360.8,1152.2 370.2,1148.5 380.0,1145.0 C389.8,1141.5 397.7,1138.1 409.0,1133.0 C420.3,1127.9 435.7,1120.7 448.0,1114.5 C460.3,1108.3 477.2,1099.1 483.0,1096.0" stroke-width="36.0" stroke-linecap="butt"/>
<path d="M283.0,1147.0 C292.3,1151.7 303.8,1154.8 315.0,1156.0 C326.2,1157.2 339.2,1155.8 350.0,1154.0 C360.8,1152.2 370.2,1148.5 380.0,1145.0 C389.8,1141.5 397.7,1138.1 409.0,1133.0 C420.3,1127.9 435.7,1120.7 448.0,1114.5 C460.3,1108.3 477.2,1099.1 483.0,1096.0" stroke-width="26.0" stroke="#fff" stroke-linecap="butt"/>
<circle cx="283" cy="1147" r="12.7" fill="#fff" stroke="none"/>
<line x1="928.9" y1="980" x2="928.9" y2="1160" stroke-width="5.0" />
<line x1="963.5" y1="980" x2="963.5" y2="1160" stroke-width="5.0" />
<path d="M911.5,950.0 C911.5,956.7 911.5,975.0 911.5,990.0 C911.5,1005.0 912.6,1027.0 911.5,1040.0 C910.4,1053.0 908.9,1060.0 905.0,1068.0 C901.1,1076.0 894.7,1083.7 888.0,1088.0 C881.3,1092.3 873.8,1094.0 865.0,1094.0 C856.2,1094.0 844.5,1091.3 835.0,1088.0 C825.5,1084.7 815.7,1079.5 808.0,1074.0 C800.3,1068.5 793.1,1062.3 789.0,1055.0 C784.9,1047.7 782.2,1040.3 783.5,1030.0" stroke-width="36.0" stroke-linecap="butt"/>
<path d="M911.5,950.0 C911.5,956.7 911.5,975.0 911.5,990.0 C911.5,1005.0 912.6,1027.0 911.5,1040.0 C910.4,1053.0 908.9,1060.0 905.0,1068.0 C901.1,1076.0 894.7,1083.7 888.0,1088.0 C881.3,1092.3 873.8,1094.0 865.0,1094.0 C856.2,1094.0 844.5,1091.3 835.0,1088.0 C825.5,1084.7 815.7,1079.5 808.0,1074.0 C800.3,1068.5 793.1,1062.3 789.0,1055.0 C784.9,1047.7 782.2,1040.3 783.5,1030.0" stroke-width="26.0" stroke="#fff" stroke-linecap="butt"/>
<path d="M783.24,1031.98 L783.5,1030.0 C784.8,1019.7 790.6,1002.2 797.0,993.0 C803.4,983.8 811.7,979.7 822.0,975.0 C832.3,970.3 846.0,966.7 859.0,965.0 C872.0,963.3 887.2,963.7 900.0,965.0 C912.8,966.3 925.7,969.2 936.0,973.0 C946.3,976.8 954.0,981.8 962.0,988.0 C970.0,994.2 978.8,1000.5 984.0,1010.0 C989.2,1019.5 992.0,1033.3 993.0,1045.0 C994.0,1056.7 992.3,1070.0 990.0,1080.0 C987.7,1090.0 984.3,1098.0 979.0,1105.0 C973.7,1112.0 966.2,1117.3 958.0,1122.0 C949.8,1126.7 939.0,1130.8 930.0,1133.0" stroke-width="36.0" stroke-linecap="butt"/>
<path d="M783.5,1030.0 C784.8,1019.7 790.6,1002.2 797.0,993.0 C803.4,983.8 811.7,979.7 822.0,975.0 C832.3,970.3 846.0,966.7 859.0,965.0 C872.0,963.3 887.2,963.7 900.0,965.0 C912.8,966.3 925.7,969.2 936.0,973.0 C946.3,976.8 954.0,981.8 962.0,988.0 C970.0,994.2 978.8,1000.5 984.0,1010.0 C989.2,1019.5 992.0,1033.3 993.0,1045.0 C994.0,1056.7 992.3,1070.0 990.0,1080.0 C987.7,1090.0 984.3,1098.0 979.0,1105.0 C973.7,1112.0 966.2,1117.3 958.0,1122.0 C949.8,1126.7 939.0,1130.8 930.0,1133.0" stroke-width="26.0" stroke="#fff" stroke-linecap="butt"/>
<circle cx="783.5" cy="1030" r="12.7" fill="#fff" stroke="none"/>
<path d="M931.94,1132.53 L930.0,1133.0 C921.0,1135.2 911.7,1135.2 904.0,1135.0 C896.3,1134.8 892.5,1133.8 884.0,1132.0 C875.5,1130.2 864.5,1127.3 853.0,1124.0 C841.5,1120.7 827.3,1116.8 815.0,1112.0 C802.7,1107.2 785.0,1097.8 779.0,1095.0" stroke-width="36.0" stroke-linecap="butt"/>
<path d="M930.0,1133.0 C921.0,1135.2 911.7,1135.2 904.0,1135.0 C896.3,1134.8 892.5,1133.8 884.0,1132.0 C875.5,1130.2 864.5,1127.3 853.0,1124.0 C841.5,1120.7 827.3,1116.8 815.0,1112.0 C802.7,1107.2 785.0,1097.8 779.0,1095.0" stroke-width="26.0" stroke="#fff" stroke-linecap="butt"/>
<circle cx="930" cy="1133" r="12.7" fill="#fff" stroke="none"/>
<line x1="338.5" y1="1168" x2="338.5" y2="1306.1" stroke-width="5.0" />
<line x1="338.5" y1="1334.7" x2="338.5" y2="1484" stroke-width="5.0" />
<line x1="372.8" y1="1164" x2="372.8" y2="1271.8" stroke-width="5.0" />
<line x1="372.8" y1="1300.4" x2="372.8" y2="1484" stroke-width="5.0" />
<line x1="928.9" y1="1151" x2="928.9" y2="1315.6" stroke-width="5.0" />
<line x1="928.9" y1="1344.2" x2="928.9" y2="1484" stroke-width="5.0" />
<line x1="963.5" y1="1136" x2="963.5" y2="1281.2" stroke-width="5.0" />
<line x1="963.5" y1="1309.8" x2="963.5" y2="1484" stroke-width="5.0" />
<g transform="translate(0,0)">
<path d="M283.7,1360.9 L408.4,1236.9 M283.7,1389.5 L408.4,1265.5" stroke-width="1.8" stroke-dasharray="12.5 5"/>
</g>
<g transform="translate(600,0)">
<path d="M283.7,1360.9 L408.4,1236.9 M283.7,1389.5 L408.4,1265.5" stroke-width="1.8" stroke-dasharray="12.5 5"/>
</g>
<line x1="338.5" y1="1306.1" x2="372.8" y2="1271.8" stroke-width="1.6" />
<line x1="338.5" y1="1334.7" x2="372.8" y2="1300.4" stroke-width="1.6" />
<line x1="928.9" y1="1315.6" x2="963.5" y2="1281.2" stroke-width="1.6" />
<line x1="928.9" y1="1344.2" x2="963.5" y2="1309.8" stroke-width="1.6" />
<g transform="translate(0,0)">
<path d="M336.5,1484 L374.5,1484 Q377,1495 374,1500 L374,1522 Q377,1528 374.5,1536 L336.5,1536 Q334,1528 337,1522 L337,1500 Q334,1495 336.5,1484Z" stroke-width="4" fill="#231f20"/>
<rect x="340" y="1487" width="31" height="6" fill="#fff" stroke="none"/>
<path d="M342,1497 Q346,1494 350,1497 L347,1505 Z M352,1497 Q356,1494 360,1497 L357,1505Z M362,1497 Q366,1494 370,1497 L367,1505Z M342,1531 Q346,1534 350,1531 L347,1523Z M352,1531 Q356,1534 360,1531 L357,1523Z M362,1531 Q366,1534 370,1531 L367,1523Z" fill="#fff" stroke="none"/>
<rect x="347" y="1507" width="2" height="14" fill="#fff" stroke="none"/><rect x="353" y="1507" width="1.5" height="14" fill="#fff" stroke="none"/><rect x="357" y="1507" width="1.5" height="14" fill="#fff" stroke="none"/><rect x="361" y="1507" width="2" height="14" fill="#fff" stroke="none"/>
<line x1="340.5" y1="1536" x2="340.5" y2="1556" stroke-width="4" />
<line x1="370.5" y1="1536" x2="370.5" y2="1556" stroke-width="4" />
<rect x="351.5" y="1536" width="8" height="20" fill="#231f20" stroke="none"/>
<rect x="327.5" y="1557.5" width="56" height="35" rx="2" stroke-width="4.5" fill="#fff"/>
<line x1="355.5" y1="1557" x2="355.5" y2="1593" stroke-width="4.5" />
<path d="M329,1562 Q342,1559 354,1562 M357,1562 Q370,1559 382,1562 M329,1589 Q342,1592 354,1589 M357,1589 Q370,1592 382,1589" stroke-width="3"/>
</g>
<g transform="translate(590.5,0)">
<path d="M336.5,1484 L374.5,1484 Q377,1495 374,1500 L374,1522 Q377,1528 374.5,1536 L336.5,1536 Q334,1528 337,1522 L337,1500 Q334,1495 336.5,1484Z" stroke-width="4" fill="#231f20"/>
<rect x="340" y="1487" width="31" height="6" fill="#fff" stroke="none"/>
<path d="M342,1497 Q346,1494 350,1497 L347,1505 Z M352,1497 Q356,1494 360,1497 L357,1505Z M362,1497 Q366,1494 370,1497 L367,1505Z M342,1531 Q346,1534 350,1531 L347,1523Z M352,1531 Q356,1534 360,1531 L357,1523Z M362,1531 Q366,1534 370,1531 L367,1523Z" fill="#fff" stroke="none"/>
<rect x="347" y="1507" width="2" height="14" fill="#fff" stroke="none"/><rect x="353" y="1507" width="1.5" height="14" fill="#fff" stroke="none"/><rect x="357" y="1507" width="1.5" height="14" fill="#fff" stroke="none"/><rect x="361" y="1507" width="2" height="14" fill="#fff" stroke="none"/>
<line x1="340.5" y1="1536" x2="340.5" y2="1556" stroke-width="4" />
<line x1="370.5" y1="1536" x2="370.5" y2="1556" stroke-width="4" />
<rect x="351.5" y="1536" width="8" height="20" fill="#231f20" stroke="none"/>
<rect x="327.5" y="1557.5" width="56" height="35" rx="2" stroke-width="4.5" fill="#fff"/>
<line x1="355.5" y1="1557" x2="355.5" y2="1593" stroke-width="4.5" />
<path d="M329,1562 Q342,1559 354,1562 M357,1562 Q370,1559 382,1562 M329,1589 Q342,1592 354,1589 M357,1589 Q370,1592 382,1589" stroke-width="3"/>
</g>
<path d="M4,1767 L1286,1767 M4,1988.8 L1286,1988.8" stroke-width="5.9" stroke-linecap="round"/>
<path d="M2.3,1877.9 L1278.5,1877.9" stroke-width="1.8" stroke-dasharray="34.3 7.1 9.8 7.1"/>
<path d="M336.5,1725 L336.5,2035" stroke-width="1.8" stroke-dasharray="34.3 7.1 9.8 7.1" stroke-dashoffset="15"/>
<circle cx="336.5" cy="1878" r="66.6" stroke-width="6"/>
<path d="M631.5,1785 L631.5,1968" stroke-width="1.8" stroke-dasharray="36 6.5 10 6.5" stroke-dashoffset="25"/>
<circle cx="631.5" cy="1878" r="66.6" stroke-width="6"/>
<path d="M927,1725 L927,2035" stroke-width="1.8" stroke-dasharray="34.3 7.1 9.8 7.1" stroke-dashoffset="15"/>
<circle cx="927" cy="1878" r="66.6" stroke-width="6"/>
<g transform="translate(0.0,0)">
<polygon points="398,1847.2 405,1819.4 426.7,1839.6" fill="#231f20" stroke="none"/>
<path d="M416.7,1828.7 Q424,1819.4 431.8,1819.4" stroke-width="1.2"/>
</g>
<line x1="431.8" y1="1819.4" x2="539.8" y2="1819.4" stroke-width="1.2" />
<text transform="translate(439.31,1815.00) scale(1.093,1)" font-size="38.57" >Ø30</text>
<g transform="translate(295.0,0)">
<polygon points="398,1847.2 405,1819.4 426.7,1839.6" fill="#231f20" stroke="none"/>
<path d="M416.7,1828.7 Q424,1819.4 431.8,1819.4" stroke-width="1.2"/>
</g>
<line x1="726.8" y1="1819.4" x2="868" y2="1819.4" stroke-width="1.2" />
<text transform="translate(735.72,1815.00) scale(1.026,1)" font-size="38.57" >Ø30-34</text>
<g transform="translate(590.5,0)">
<polygon points="398,1847.2 405,1819.4 426.7,1839.6" fill="#231f20" stroke="none"/>
<path d="M416.7,1828.7 Q424,1819.4 431.8,1819.4" stroke-width="1.2"/>
</g>
<line x1="1022.3" y1="1819.4" x2="1130" y2="1819.4" stroke-width="1.2" />
<text transform="translate(1030.31,1815.00) scale(1.096,1)" font-size="38.57" >Ø30</text>
</svg></body></html>
